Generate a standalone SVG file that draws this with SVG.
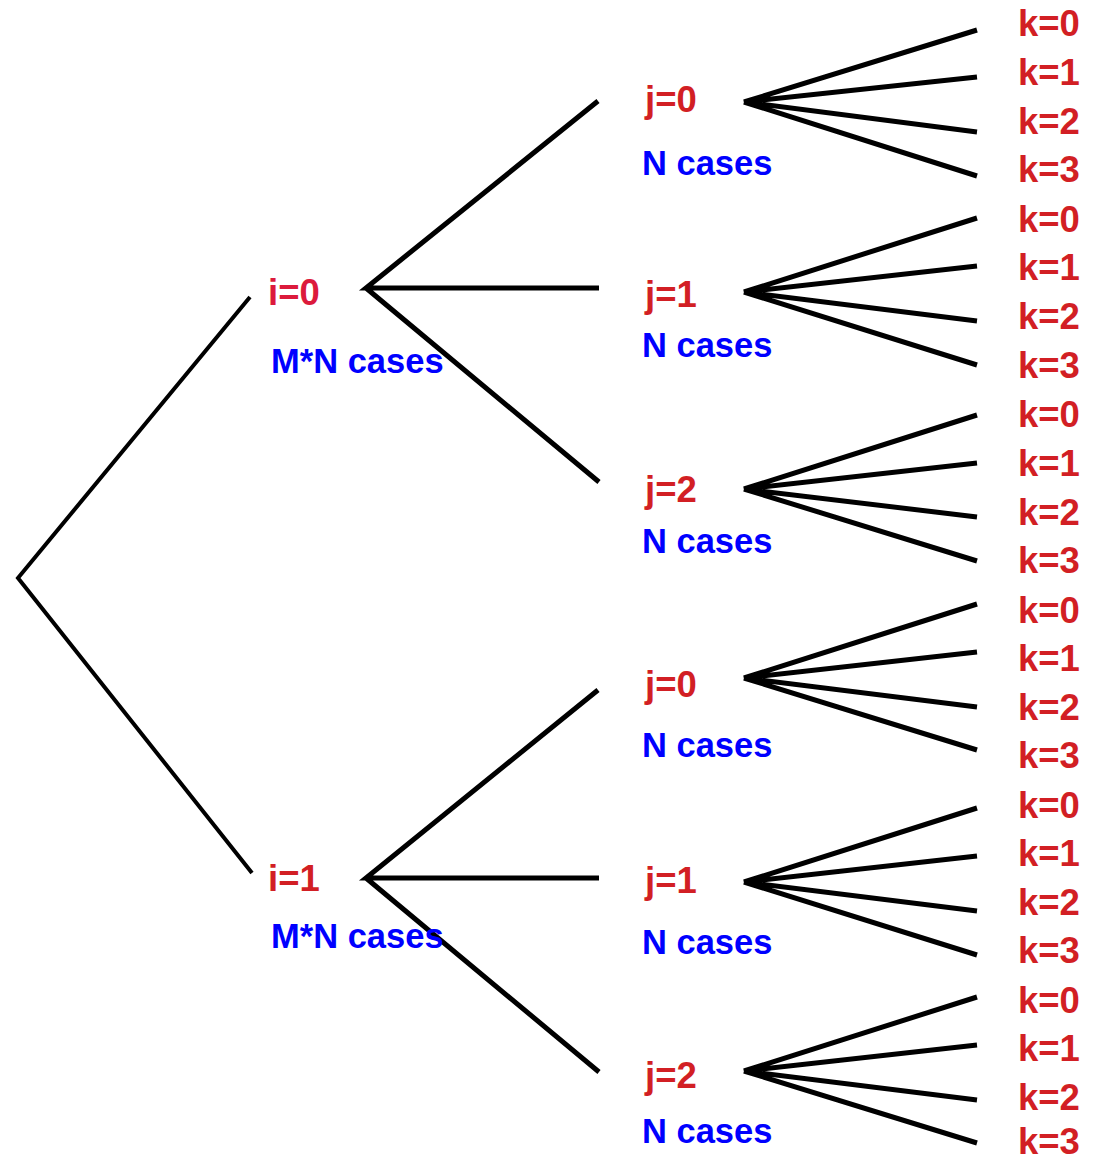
<svg xmlns="http://www.w3.org/2000/svg" width="1095" height="1161" viewBox="0 0 1095 1161">
<style>
text{font-family:"Liberation Sans",Arial,sans-serif;font-weight:bold;font-size:34.5px}
.r{fill:#d21f24;font-size:36.5px}
.ri{fill:#dc1a3c;font-size:36.5px}
.b{fill:#0000ff}
.l{stroke:#000;fill:none;stroke-width:5;stroke-linecap:butt}
.l3{stroke:#000;fill:none;stroke-width:4}
</style>
<rect width="1095" height="1161" fill="#fff"/>
<g id="connectors">
<path class="l3" d="M250,297 L18,578 L252,873"/>
<path class="l" d="M598,101 L366,288 L599,288 M366,288 L599,482"/>
<path class="l" d="M598,690 L366,878 L599,878 M366,878 L599,1072"/>
<path class="l" d="M977,30 L744,102 L977,77 M744,102 L977,132 M744,102 L977,176"/>
<path class="l" d="M977,218 L744,292 L977,266 M744,292 L977,321 M744,292 L977,365"/>
<path class="l" d="M977,415 L744,489 L977,463 M744,489 L977,517 M744,489 L977,561"/>
<path class="l" d="M977,604 L744,678 L977,652 M744,678 L977,707 M744,678 L977,750"/>
<path class="l" d="M977,808 L744,882 L977,856 M744,882 L977,911 M744,882 L977,955"/>
<path class="l" d="M977,997 L744,1071 L977,1045 M744,1071 L977,1100 M744,1071 L977,1143"/>
</g>
<g id="i0"><text class="ri" x="268" y="305">i=0</text><text class="b" x="271" y="373">M*N cases</text></g>
<g id="i1"><text class="r" x="268" y="891">i=1</text><text class="b" x="271" y="948">M*N cases</text></g>
<g id="j0a"><text class="r" x="645" y="112">j=0</text><text class="b" x="642" y="175">N cases</text></g>
<g id="j1a"><text class="r" x="645" y="307">j=1</text><text class="b" x="642" y="357">N cases</text></g>
<g id="j2a"><text class="r" x="645" y="502">j=2</text><text class="b" x="642" y="553">N cases</text></g>
<g id="j0b"><text class="r" x="645" y="697">j=0</text><text class="b" x="642" y="757">N cases</text></g>
<g id="j1b"><text class="r" x="645" y="893">j=1</text><text class="b" x="642" y="954">N cases</text></g>
<g id="j2b"><text class="r" x="645" y="1088">j=2</text><text class="b" x="642" y="1143">N cases</text></g>
<g id="k-j0a"><text class="r" x="1018" y="36">k=0</text><text class="r" x="1018" y="85">k=1</text><text class="r" x="1018" y="134">k=2</text><text class="r" x="1018" y="182">k=3</text></g>
<g id="k-j1a"><text class="r" x="1018" y="232">k=0</text><text class="r" x="1018" y="280">k=1</text><text class="r" x="1018" y="329">k=2</text><text class="r" x="1018" y="378">k=3</text></g>
<g id="k-j2a"><text class="r" x="1018" y="427">k=0</text><text class="r" x="1018" y="476">k=1</text><text class="r" x="1018" y="525">k=2</text><text class="r" x="1018" y="573">k=3</text></g>
<g id="k-j0b"><text class="r" x="1018" y="623">k=0</text><text class="r" x="1018" y="671">k=1</text><text class="r" x="1018" y="720">k=2</text><text class="r" x="1018" y="768">k=3</text></g>
<g id="k-j1b"><text class="r" x="1018" y="818">k=0</text><text class="r" x="1018" y="866">k=1</text><text class="r" x="1018" y="915">k=2</text><text class="r" x="1018" y="963">k=3</text></g>
<g id="k-j2b"><text class="r" x="1018" y="1013">k=0</text><text class="r" x="1018" y="1061">k=1</text><text class="r" x="1018" y="1110">k=2</text><text class="r" x="1018" y="1154">k=3</text></g>
</svg>
